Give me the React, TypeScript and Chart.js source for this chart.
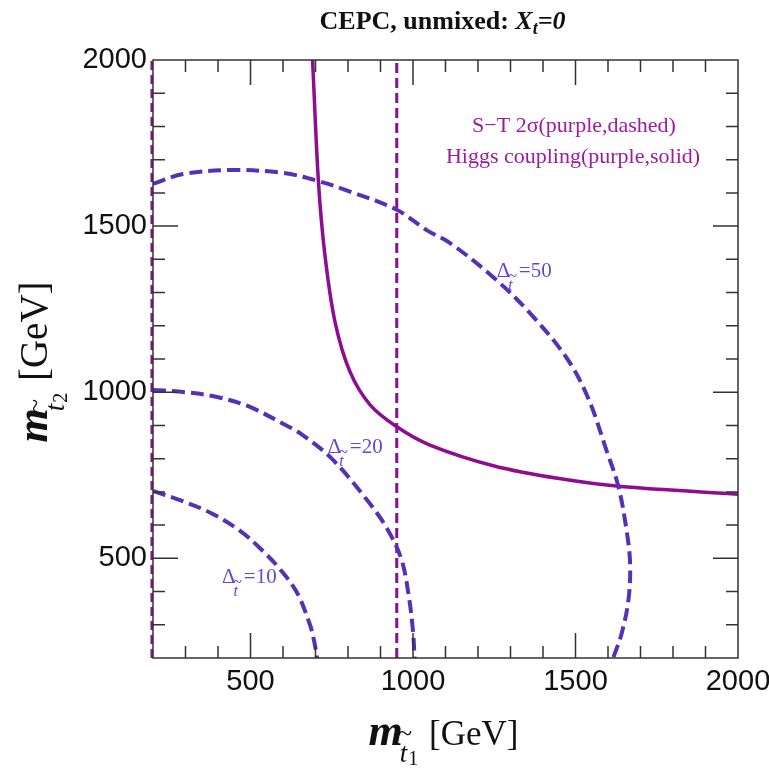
import React, { useEffect, useRef } from "react";
import { Chart, registerables } from "chart.js";

Chart.register(...registerables);

// ---------- data ----------
const AXIS_MIN = 200;
const AXIS_MAX = 2000;
const MAJOR_TICKS = [500, 1000, 1500, 2000];
const MINOR_STEP = 100;

// S-T 2 sigma bounds (purple, dashed)
const ST_LEFT_X = [196, 196];
const ST_LEFT_Y = [200, 2000];
const ST_RIGHT_X = [950, 950];
const ST_RIGHT_Y = [200, 2000];

// Higgs coupling bound (purple, solid)
const HIGGS_X = [691, 709, 729, 760, 806, 868, 950, 1052, 1250, 1450, 1640, 2000];
const HIGGS_Y = [2000, 1634, 1413, 1212, 1062, 962, 896, 841, 778, 740, 716, 693];

// Delta contours (blue-purple, dashed)
const D10_X = [200, 283, 375, 468, 535, 591, 643, 683, 696, 705];
const D10_Y = [703, 675, 638, 583, 525, 467, 397, 300, 250, 200];

const D20_X = [200, 300, 400, 500, 600, 652, 750, 858, 920, 965, 988, 1000, 1005];
const D20_Y = [1007, 1000, 985, 955, 905, 877, 800, 676, 590, 495, 380, 280, 200];

const D50_X = [200, 293, 446, 600, 704, 806, 950, 1042, 1114, 1246, 1360, 1475, 1540, 1595, 1632, 1657, 1668, 1663, 1642, 1616];
const D50_Y = [1627, 1657, 1669, 1660, 1637, 1604, 1549, 1488, 1449, 1347, 1238, 1100, 980, 826, 716, 585, 485, 375, 274, 200];

// contour labels (anchor in data units)
const DELTA_VALUES = ["50", "20", "10"];
const DELTA_LABEL_X = [1258, 738, 412];
const DELTA_LABEL_Y = [1347, 817, 426];

const LEGEND_LINES = ["S\u2212T 2\u03C3(purple,dashed)", "Higgs coupling(purple,solid)"];

// ---------- styles ----------
const SERIF = "'Liberation Serif', 'Times New Roman', serif";
const SANS = "'Liberation Sans', Arial, sans-serif";
const PURPLE = "#8f0b8f";
const BLUE = "#5631b6";
const LEGEND_COLOR = "#9e1a9e";
const DELTA_COLOR = "#6546cf";
const FRAME_COLOR = "#333333";

const pts = (xs: number[], ys: number[]) => xs.map((x, i) => ({ x, y: ys[i] }));

type Part = { t: string; f: string; dx?: number; dy?: number };

function drawParts(ctx: CanvasRenderingContext2D, parts: Part[], x: number, y: number, center: boolean) {
  const widths = parts.map((p) => {
    ctx.font = p.f;
    return ctx.measureText(p.t).width + (p.dx || 0);
  });
  const total = widths.reduce((a, b) => a + b, 0);
  let cx = center ? x - total / 2 : x;
  const starts: number[] = [];
  parts.forEach((p, i) => {
    ctx.font = p.f;
    cx += p.dx || 0;
    starts.push(cx);
    ctx.fillText(p.t, cx, y + (p.dy || 0));
    cx += widths[i] - (p.dx || 0);
  });
  return { starts, widths };
}

function drawMassTitle(ctx: CanvasRenderingContext2D, sub: string, cx: number, baseline: number, unitSize: number) {
  ctx.fillStyle = "#111";
  const parts: Part[] = [
    { t: "m", f: `italic bold 44px ${SERIF}` },
    { t: "t", f: `italic 27px ${SERIF}`, dx: -3, dy: 17 },
    { t: sub, f: `20px ${SERIF}`, dx: 1, dy: 20 },
    { t: " [GeV]", f: `${unitSize}px ${SERIF}`, dx: 2 },
  ];
  const { starts, widths } = drawParts(ctx, parts, cx, baseline, true);
  // tilde over the t
  ctx.font = `26px ${SERIF}`;
  const tw = ctx.measureText("~").width;
  ctx.fillText("~", starts[1] + widths[1] / 2 - tw / 2 + 3, baseline - 4);
}

function drawDelta(ctx: CanvasRenderingContext2D, x: number, y: number, value: string) {
  ctx.fillStyle = DELTA_COLOR;
  ctx.font = `21px ${SERIF}`;
  ctx.fillText("\u0394", x, y);
  const tx = x + ctx.measureText("\u0394").width - 2;
  ctx.font = `italic 16px ${SERIF}`;
  ctx.fillText("t", tx, y + 13);
  const tw = ctx.measureText("t").width;
  ctx.font = `16px ${SERIF}`;
  const tilW = ctx.measureText("~").width;
  ctx.fillText("~", tx + tw / 2 - tilW / 2 + 2, y + 4);
  ctx.font = `21px ${SERIF}`;
  ctx.fillText("=" + value, tx + tw + 6, y);
}

const decorPlugin = {
  id: "decor",
  afterDatasetsDraw(chart: any) {
    const { ctx, chartArea: a, scales } = chart;
    const xs = scales.x;
    const ys = scales.y;
    ctx.save();
    // frame
    ctx.strokeStyle = FRAME_COLOR;
    ctx.lineWidth = 1.5;
    ctx.strokeRect(a.left, a.top, a.right - a.left, a.bottom - a.top);
    // inward ticks on all four sides
    ctx.beginPath();
    for (let v = AXIS_MIN + MINOR_STEP; v < AXIS_MAX; v += MINOR_STEP) {
      const len = MAJOR_TICKS.includes(v) ? 25 : 12;
      const px = xs.getPixelForValue(v);
      ctx.moveTo(px, a.bottom);
      ctx.lineTo(px, a.bottom - len);
      ctx.moveTo(px, a.top);
      ctx.lineTo(px, a.top + len);
      const py = ys.getPixelForValue(v);
      ctx.moveTo(a.left, py);
      ctx.lineTo(a.left + len, py);
      ctx.moveTo(a.right, py);
      ctx.lineTo(a.right - len, py);
    }
    ctx.stroke();

    ctx.textAlign = "left";
    ctx.textBaseline = "alphabetic";

    // title
    ctx.fillStyle = "#111";
    const midX = (a.left + a.right) / 2;
    drawParts(
      ctx,
      [
        { t: "CEPC, unmixed: ", f: `bold 26px ${SERIF}` },
        { t: "X", f: `italic bold 26px ${SERIF}` },
        { t: "t", f: `italic bold 18px ${SERIF}`, dy: 5 },
        { t: "=0", f: `italic bold 26px ${SERIF}` },
      ],
      midX - 3,
      29,
      true
    );

    // legend text
    ctx.fillStyle = LEGEND_COLOR;
    ctx.font = `22px ${SERIF}`;
    ctx.textAlign = "center";
    ctx.fillText(LEGEND_LINES[0], a.right - 164, a.top + 72);
    ctx.fillText(LEGEND_LINES[1], a.right - 165, a.top + 103);
    ctx.textAlign = "left";

    // delta labels
    DELTA_VALUES.forEach((val, i) => {
      drawDelta(ctx, xs.getPixelForValue(DELTA_LABEL_X[i]), ys.getPixelForValue(DELTA_LABEL_Y[i]), val);
    });

    // x-axis title
    drawMassTitle(ctx, "1", midX - 2, 745, 35);

    // y-axis title (rotated)
    ctx.save();
    ctx.translate(47, (a.top + a.bottom) / 2 + 3);
    ctx.rotate(-Math.PI / 2);
    drawMassTitle(ctx, "2", 0, 0, 39);
    ctx.restore();

    ctx.restore();
  },
};

export default function App() {
  const ref = useRef<HTMLCanvasElement>(null);

  useEffect(() => {
    if (!ref.current) return;
    const dashedBlue = (data: { x: number; y: number }[]) => ({
      data,
      showLine: true,
      borderColor: BLUE,
      borderWidth: 4,
      borderDash: [13, 6],
      pointRadius: 0,
      tension: 0.35,
      fill: false,
    });
    const tickFmt = (v: any) => String(v);
    const chart = new Chart(ref.current, {
      type: "scatter",
      data: {
        datasets: [
          dashedBlue(pts(D10_X, D10_Y)),
          dashedBlue(pts(D20_X, D20_Y)),
          dashedBlue(pts(D50_X, D50_Y)),
          {
            data: pts(ST_LEFT_X, ST_LEFT_Y),
            showLine: true,
            borderColor: PURPLE,
            borderWidth: 2.5,
            borderDash: [9, 5],
            pointRadius: 0,
            clip: 10,
          } as any,
          {
            data: pts(ST_RIGHT_X, ST_RIGHT_Y),
            showLine: true,
            borderColor: PURPLE,
            borderWidth: 3,
            borderDash: [10, 5],
            pointRadius: 0,
          },
          {
            data: pts(HIGGS_X, HIGGS_Y),
            showLine: true,
            borderColor: PURPLE,
            borderWidth: 3.5,
            pointRadius: 0,
            tension: 0.3,
          },
        ],
      },
      options: {
        animation: false,
        responsive: false,
        devicePixelRatio: 1,
        layout: { padding: { left: 0, right: 31, top: 60, bottom: 0 } },
        plugins: { legend: { display: false }, tooltip: { enabled: false }, title: { display: false } },
        scales: {
          x: {
            type: "linear",
            min: AXIS_MIN,
            max: AXIS_MAX,
            grid: { display: false, drawTicks: false },
            border: { display: false },
            ticks: {
              font: { family: SANS, size: 29 },
              color: "#111",
              padding: 7,
              maxRotation: 0,
              autoSkip: false,
              callback: tickFmt,
            },
            afterBuildTicks: (s: any) => {
              s.ticks = MAJOR_TICKS.map((v) => ({ value: v }));
            },
            afterFit: (s: any) => {
              s.height = 110;
              s.paddingLeft = 0;
              s.paddingRight = 0;
            },
          },
          y: {
            type: "linear",
            min: AXIS_MIN,
            max: AXIS_MAX,
            grid: { display: false, drawTicks: false },
            border: { display: false },
            ticks: {
              font: { family: SANS, size: 29 },
              color: "#111",
              padding: 6,
              autoSkip: false,
              callback: tickFmt,
            },
            afterBuildTicks: (s: any) => {
              s.ticks = MAJOR_TICKS.map((v) => ({ value: v }));
            },
            afterFit: (s: any) => {
              s.width = 153;
              s.paddingTop = 0;
              s.paddingBottom = 0;
            },
          },
        },
      } as any,
      plugins: [decorPlugin],
    });
    return () => chart.destroy();
  }, []);

  return (
    <div style={{ position: "fixed", left: 0, top: 0, width: 769, height: 768, background: "#fff" }}>
      <canvas ref={ref} width={769} height={768} style={{ display: "block", width: 769, height: 768 }} />
    </div>
  );
}
